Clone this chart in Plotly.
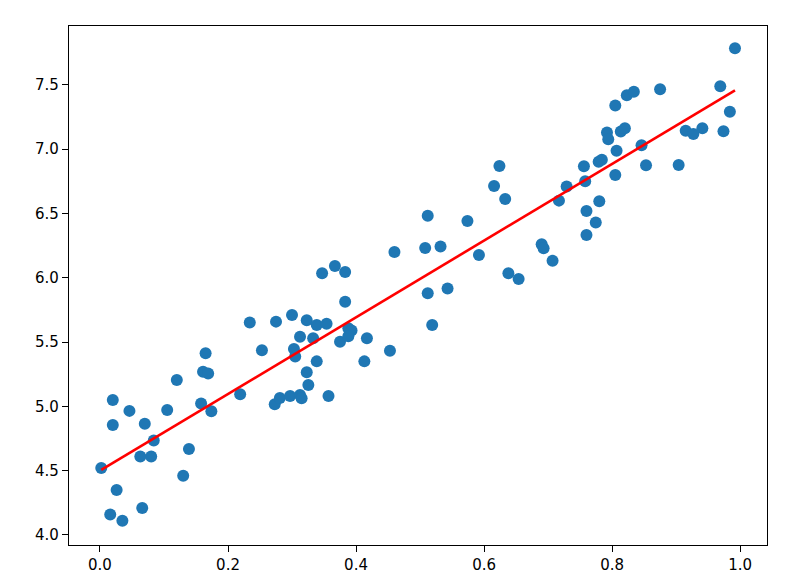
import numpy as np
import plotly.graph_objects as go

x_vals = [0.002, 0.016, 0.035, 0.026, 0.020, 0.020, 0.046, 0.066, 0.063, 0.070,
          0.080, 0.084, 0.105, 0.120, 0.130, 0.139, 0.158, 0.174, 0.165, 0.161,
          0.169, 0.219, 0.234, 0.253, 0.275, 0.273, 0.281, 0.297, 0.300, 0.3125,
          0.303, 0.305, 0.3125, 0.315, 0.323, 0.3386, 0.354, 0.333, 0.3386, 0.323,
          0.3255, 0.357, 0.347, 0.367, 0.383, 0.383, 0.375, 0.388, 0.393, 0.388,
          0.417, 0.413, 0.453, 0.460, 0.508, 0.512, 0.532, 0.512, 0.543, 0.519,
          0.574, 0.592, 0.6156, 0.624, 0.633, 0.638, 0.654, 0.690, 0.693, 0.707,
          0.717, 0.729, 0.756, 0.758, 0.760, 0.7745, 0.780, 0.760, 0.779, 0.784,
          0.805, 0.807, 0.792, 0.794, 0.8136, 0.820, 0.805, 0.823, 0.834, 0.875,
          0.846, 0.853, 0.904, 0.915, 0.927, 0.941, 0.969, 0.974, 0.984, 0.992]
y_vals = [4.52, 4.16, 4.11, 4.35, 5.05, 4.855, 4.965, 4.21, 4.61, 4.865,
          4.61, 4.735, 4.972, 5.205, 4.46, 4.668, 5.022, 4.962, 5.413, 5.27,
          5.255, 5.094, 5.652, 5.436, 5.659, 5.016, 5.066, 5.08, 5.711, 5.542,
          5.446, 5.387, 5.089, 5.063, 5.67, 5.633, 5.643, 5.53, 5.35, 5.266,
          5.166, 5.081, 6.035, 6.092, 6.045, 5.814, 5.503, 5.607, 5.59, 5.545,
          5.53, 5.35, 5.433, 6.2, 6.232, 6.483, 6.244, 5.88, 5.916, 5.633,
          6.442, 6.177, 6.714, 6.87, 6.613, 6.035, 5.99, 6.26, 6.23, 6.133,
          6.60, 6.71, 6.868, 6.75, 6.519, 6.43, 6.595, 6.333, 6.903, 6.918,
          6.80, 6.988, 7.13, 7.077, 7.138, 7.163, 7.34, 7.42, 7.447, 7.467,
          7.03, 6.875, 6.877, 7.144, 7.118, 7.163, 7.49, 7.14, 7.292, 7.785]

x_ticks = [0.0, 0.2, 0.4, 0.6, 0.8, 1.0]
y_ticks = [4.0, 4.5, 5.0, 5.5, 6.0, 6.5, 7.0, 7.5]

xa = np.array(x_vals)
ya = np.array(y_vals)
slope, intercept = np.polyfit(xa, ya, 1)
order = np.argsort(xa)
x_line = xa[order]
y_line = slope * x_line + intercept

fig = go.Figure()
fig.add_trace(go.Scatter(x=x_vals, y=y_vals, mode="markers",
                         marker=dict(color="#1f77b4", size=12, line=dict(width=0)),
                         showlegend=False))
fig.add_trace(go.Scatter(x=x_line, y=y_line, mode="lines",
                         line=dict(color="red", width=2.6), showlegend=False))

axis_common = dict(showline=True, linecolor="black", linewidth=1.3, mirror=True,
                   ticks="outside", ticklen=6, tickwidth=1.3, tickcolor="black",
                   showgrid=False, zeroline=False, automargin=False,
                   tickfont=dict(family="DejaVu Sans", size=15, color="black"))

fig.update_layout(
    width=808, height=580,
    margin=dict(l=69, r=41, t=26, b=35),
    paper_bgcolor="white", plot_bgcolor="white",
    xaxis=dict(range=[-0.0484, 1.042], tickvals=x_ticks,
               ticktext=[f"{v:.1f}" for v in x_ticks], **axis_common),
    yaxis=dict(range=[3.922, 7.958], tickvals=y_ticks,
               ticktext=[f"{v:.1f}" for v in y_ticks], **axis_common),
)

fig.write_html("out.html")
